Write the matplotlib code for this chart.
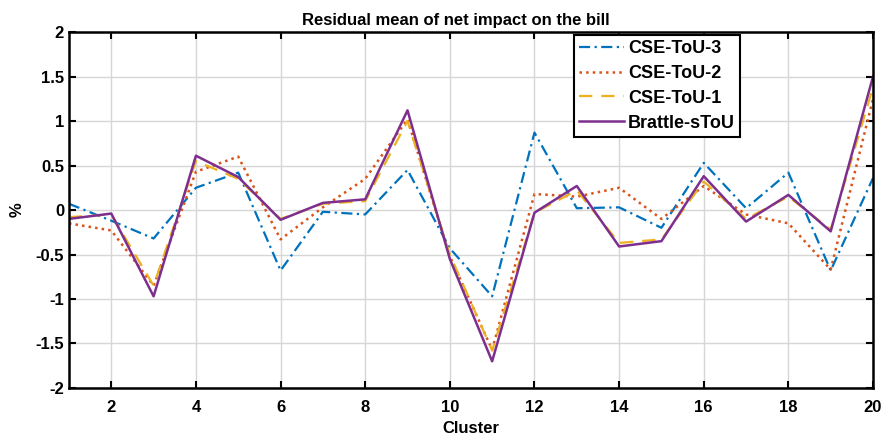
import numpy as np
import matplotlib
matplotlib.use("Agg")
import matplotlib.pyplot as plt

plt.rcParams['font.family'] = ['Liberation Sans', 'DejaVu Sans']
plt.rcParams['font.weight'] = 'bold'

clusters = np.arange(1, 21)
cse_tou_3 = [0.07, -0.12, -0.32, 0.25, 0.42, -0.68, -0.02, -0.05, 0.45, -0.43,
             -0.97, 0.87, 0.02, 0.03, -0.20, 0.53, 0.02, 0.42, -0.68, 0.36]
cse_tou_2 = [-0.15, -0.23, -0.85, 0.43, 0.60, -0.33, 0.03, 0.35, 1.02, -0.52,
             -1.57, 0.18, 0.15, 0.25, -0.10, 0.27, -0.05, -0.15, -0.67, 1.25]
cse_tou_1 = [-0.08, -0.05, -0.85, 0.55, 0.35, -0.10, 0.07, 0.10, 1.00, -0.50,
             -1.58, -0.03, 0.22, -0.37, -0.33, 0.32, -0.10, 0.15, -0.22, 1.38]
brattle = [-0.10, -0.04, -0.97, 0.61, 0.37, -0.11, 0.08, 0.12, 1.12, -0.55,
           -1.70, -0.03, 0.27, -0.41, -0.35, 0.38, -0.13, 0.17, -0.24, 1.50]

fig = plt.figure(figsize=(8.83, 4.41), dpi=100)
ax = fig.add_axes([0.0781, 0.1202, 0.9106, 0.8072])

ax.plot(clusters, cse_tou_3, color="#0072BD", linestyle=(0, (5, 2, 1, 2)), lw=1.6, label="CSE-ToU-3")
ax.plot(clusters, cse_tou_2, color="#D95319", linestyle=":", lw=1.8, label="CSE-ToU-2")
ax.plot(clusters, cse_tou_1, color="#EDB120", linestyle=(0, (6, 4)), lw=1.6, label="CSE-ToU-1")
ax.plot(clusters, brattle, color="#7E2F8E", linestyle="-", lw=1.8, label="Brattle-sToU")

ax.set_xlim(1, 20)
ax.set_ylim(-2, 2)
ax.set_xticks(np.arange(2, 21, 2))
ax.set_yticks(np.arange(-2, 2.01, 0.5))
ax.set_yticklabels(["-2", "-1.5", "-1", "-0.5", "0", "0.5", "1", "1.5", "2"])
ax.tick_params(direction="in", top=True, right=True, length=5, width=1.5,
               labelsize=12)
ax.tick_params(axis="x", pad=9)
for s in ax.spines.values():
    s.set_linewidth(1.8)
ax.grid(True, color="#d6d6d6", lw=1.0)
ax.set_axisbelow(True)

ax.set_xlabel("Cluster", fontsize=12, fontweight="bold", labelpad=4)
ax.set_ylabel("%", fontsize=12, fontweight="bold", labelpad=8)
ax.set_title("Residual mean of net impact on the bill", fontsize=12,
             fontweight="bold", pad=5, x=0.481)

leg = ax.legend(loc="upper right", bbox_to_anchor=(0.835, 0.992),
                borderaxespad=0, fontsize=13, fancybox=False, framealpha=1,
                edgecolor="black", handlelength=2.5, borderpad=0.3,
                labelspacing=0.43, handletextpad=0.2)
leg.get_frame().set_linewidth(1.5)

fig.savefig("out.png", dpi=100)
